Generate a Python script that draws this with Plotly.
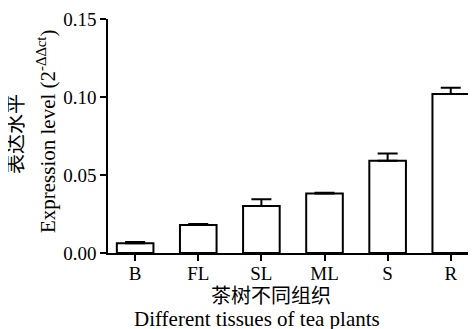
import plotly.graph_objects as go

categories = ["B", "FL", "SL", "ML", "S", "R"]
values = [0.0062, 0.0180, 0.0302, 0.0381, 0.0592, 0.1020]
errors = [0.0008, 0.0006, 0.0042, 0.0006, 0.0046, 0.0040]
ytick_vals = [0.00, 0.05, 0.10, 0.15]

font_fam = "Liberation Serif, Times New Roman, Noto Sans CJK SC, serif"

fig = go.Figure(go.Bar(
    x=list(range(len(categories))),
    y=values,
    width=0.58,
    marker=dict(color="white", line=dict(color="black", width=2)),
    error_y=dict(type="data", array=errors, arrayminus=[0]*len(errors), symmetric=False,
                 color="black", thickness=2, width=10),
))

annots = [
    dict(text="表达水平", x=-0.250, y=0.509, textangle=-90, size=20),
    dict(text="Expression level (2<sup>-ΔΔct</sup>)", x=-0.1685, y=0.521, textangle=-90, size=21),
    dict(text="茶树不同组织", x=0.443, y=-0.182, textangle=0, size=20),
    dict(text="Different tissues of tea plants", x=0.405, y=-0.282, textangle=0, size=21),
]
for a in annots:
    sz = a.pop("size")
    fig.add_annotation(xref="paper", yref="paper", showarrow=False,
                       xanchor="center", yanchor="middle",
                       font=dict(size=sz, family=font_fam, color="black"), **a)

fig.update_layout(
    width=468, height=321,
    margin=dict(l=100, r=0, t=11, b=76),
    plot_bgcolor="white", paper_bgcolor="white",
    font=dict(family=font_fam, size=19, color="black"),
    showlegend=False,
    xaxis=dict(
        range=[-0.43, 5.4],
        tickvals=list(range(len(categories))), ticktext=categories,
        showline=True, linecolor="black", linewidth=1.5,
        ticks="outside", ticklen=6, tickwidth=1.5, tickcolor="black",
        ticklabelstandoff=-4,
        showgrid=False, zeroline=False,
    ),
    yaxis=dict(
        range=[0, 0.15],
        tickvals=ytick_vals, tickformat=".2f",
        showline=True, linecolor="black", linewidth=1.5,
        ticks="outside", ticklen=6, tickwidth=1.5, tickcolor="black",
        showgrid=False, zeroline=False,
    ),
)

fig.write_html("out.html")
